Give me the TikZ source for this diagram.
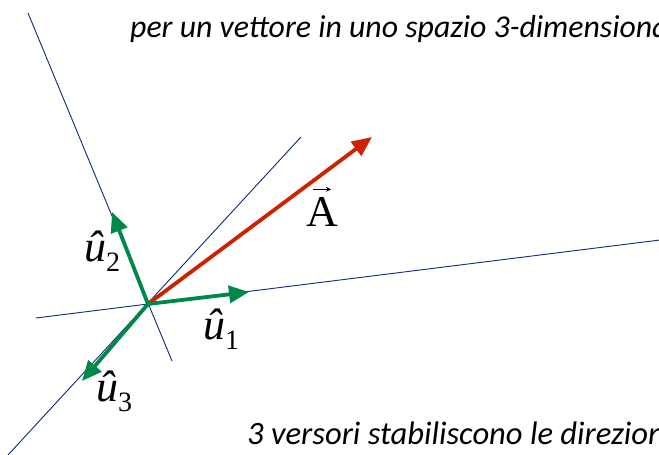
\documentclass[tikz,border=0pt]{standalone}
\usepackage{fontspec}
\setmainfont{Carlito}
\newfontfamily\tms{Liberation Serif}
\usepackage{xcolor}
\usepackage{tikz}
\usetikzlibrary{arrows.meta,positioning,calc}
\definecolor{axisblue}{HTML}{0B2A7A}
\definecolor{vecred}{HTML}{CC2200}
\definecolor{versgreen}{HTML}{00884A}
\tikzset{
  axis/.style={draw=axisblue, line width=0.9pt},
  versor/.style={-{Triangle[length=20pt,width=17pt]}, draw=versgreen, line width=3.8pt},
  bigvec/.style={-{Triangle[length=20pt,width=17pt]}, draw=vecred, line width=3.8pt},
  vecmark/.style={-{Stealth[length=5pt,width=5pt]}, line width=1.1pt},
  caption/.style={font=\fontsize{31.8}{36}\selectfont\itshape, inner sep=0pt},
  vlbl/.style={font=\fontsize{44}{46}\selectfont\tms, inner sep=0pt},
}
\newcommand{\uvers}[1]{\textit{\^{u}}\raisebox{-0.22em}{\fontsize{28}{30}\selectfont #1}}

\begin{document}
\begin{tikzpicture}[x=1pt,y=-1pt]
\useasboundingbox (0,0) rectangle (659,455);
\clip (0,0) rectangle (659,455);
% origin and axis end points
\coordinate (o) at (148,304);
\coordinate (x1a) at (36,318);   \coordinate (x1b) at (700,235);
\coordinate (x2a) at (28,13);    \coordinate (x2b) at (172,361);
\coordinate (x3a) at (8,455);    \coordinate (x3b) at (301,137);
\draw[axis] (x1a) -- (x1b);
\draw[axis] (x2a) -- (x2b);
\draw[axis] (x3a) -- (x3b);
% vector and versors
\coordinate (atip) at (372,137);
\coordinate (u1tip) at (249,292);
\coordinate (u2tip) at (112,212);
\coordinate (u3tip) at (82,381);
\draw[bigvec] (o) -- (atip);
\draw[versor] (o) -- (u1tip);
\draw[versor] (o) -- (u2tip);
\draw[versor] (o) -- (u3tip);
% labels
\node[vlbl] (la) at (322,212) {A};
\draw[vecmark] ([xshift=-9pt,yshift=8pt]la.north) -- ([xshift=9pt,yshift=8pt]la.north);
\node[vlbl] (l1) at (221,329) {\uvers{1}};
\node[vlbl] (l2) at (102,251) {\uvers{2}};
\node[vlbl] (l3) at (114,391) {\uvers{3}};
\node[caption, anchor=base west] (top) at (130,37) {per un vettore in uno spazio 3-dimensionale};
\node[caption, font=\fontsize{32.6}{36}\selectfont\itshape, anchor=base west] (bot) at (247,444) {3 versori stabiliscono le direzioni};
\end{tikzpicture}
\end{document}
